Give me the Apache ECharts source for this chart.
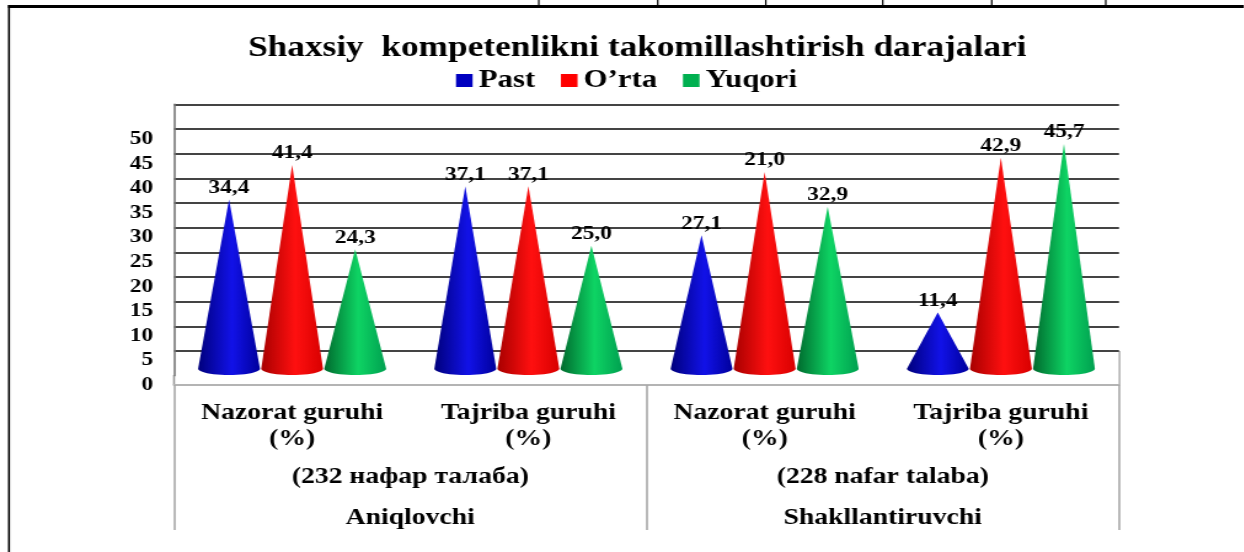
<!DOCTYPE html>
<html>
<head>
<meta charset="utf-8">
<style>
  html, body { margin: 0; padding: 0; background: #fff; overflow: hidden; }
  /* the source figure is a picture pasted in stretched sideways, so stretch ours too */
  #chart { width: 1012px; height: 552px; transform: scaleX(1.23); transform-origin: 0 0; }
</style>
</head>
<body>
<div id="chart"></div>
<script src="https://cdn.jsdelivr.net/npm/echarts@6/dist/echarts.min.js"></script>
<script>
const groups = ["Nazorat guruhi\n(%)", "Tajriba guruhi\n(%)", "Nazorat guruhi\n(%)", "Tajriba guruhi\n(%)"];
const cohorts = ["(232 нафар талаба)", "(228 nafar talaba)"];
const phases = ["Aniqlovchi", "Shakllantiruvchi"];

// heights as drawn in the picture
const past = [34.4, 37.1, 27.1, 11.4];
const orta = [41.4, 37.1, 40.0, 42.9];
const yuqori = [24.3, 25.0, 32.9, 45.7];

// printed labels (third red cone is printed 21,0 but drawn near 40)
const pastLabels = ["34,4", "37,1", "27,1", "11,4"];
const ortaLabels = ["41,4", "37,1", "21,0", "42,9"];
const yuqoriLabels = ["24,3", "25,0", "32,9", "45,7"];

const SERIF = '"Liberation Serif", serif';
const SX = 1.23;
const px = (x) => x / SX; // page x to chart x

const chart = echarts.init(document.getElementById("chart"));

function coneSeries(name, values, labels, offset, stops) {
  return {
    name: name,
    type: "custom",
    xAxisIndex: 0,
    yAxisIndex: 0,
    clip: false,
    z: 5,
    itemStyle: { color: stops.legend },
    data: values.map((v, i) => [i, v]),
    renderItem: (params, api) => {
      const band = api.size([1, 0])[0];
      const base = api.coord([api.value(0), 0]);
      const tip = api.coord([api.value(0), api.value(1)]);
      const cx = base[0] + band * offset;
      const hw = band * 0.131;
      const ry = 6.3;
      const points = [[cx, tip[1]]];
      for (let k = 0; k <= 24; k++) {
        const a = (k / 24) * Math.PI;
        points.push([cx + hw * Math.cos(a), base[1] + ry * Math.sin(a)]);
      }
      return {
        type: "group",
        children: [
          {
            type: "polygon",
            shape: { points: points },
            style: {
              fill: new echarts.graphic.LinearGradient(0, 0, 1, 0, [
                { offset: 0, color: stops.dark },
                { offset: 0.55, color: stops.light },
                { offset: 1, color: stops.mid },
              ]),
            },
          },
          {
            type: "text",
            z2: 10,
            style: {
              text: labels[params.dataIndex],
              x: cx,
              y: tip[1] - 11.5,
              align: "center",
              verticalAlign: "middle",
              fill: "#000",
              font: "bold 19px " + SERIF,
            },
          },
        ],
      };
    },
  };
}

function frameRect(x, y, w, h) {
  return { type: "rect", silent: true, shape: { x: px(x), y: y, width: px(w), height: h }, style: { fill: "#000" } };
}

const option = {
  animation: false,
  title: {
    text: "Shaxsiy  kompetenlikni takomillashtirish darajalari",
    left: px(248),
    top: 34,
    padding: 0,
    textStyle: { fontFamily: SERIF, fontWeight: "bold", fontSize: 28.7, color: "#000" },
  },
  legend: {
    left: px(456),
    top: 68,
    padding: 0,
    icon: "rect",
    itemWidth: 13.5,
    itemHeight: 13,
    itemGap: 21,
    selectedMode: false,
    textStyle: { fontFamily: SERIF, fontWeight: "bold", fontSize: 25, color: "#000" },
    data: ["Past", "O’rta", "Yuqori"],
  },
  // three offset grids fake the 3D look: cones, back wall, front tick labels
  grid: [
    { left: px(174), width: px(945), top: 98.1, height: 270.6 },
    { left: px(174), width: px(945), top: 104.4, height: 271.2 },
    { left: px(174), width: px(945), top: 114.4, height: 270.6 },
  ],
  xAxis: [
    { type: "category", gridIndex: 0, data: groups, show: false },
    { type: "category", gridIndex: 1, data: groups, show: false },
    {
      type: "category",
      gridIndex: 2,
      data: groups,
      position: "bottom",
      axisLine: { show: true, lineStyle: { color: "#b4b4b4", width: 2 } },
      axisTick: { show: false },
      axisLabel: {
        interval: 0,
        margin: 15,
        lineHeight: 26,
        fontFamily: SERIF,
        fontWeight: "bold",
        fontSize: 22.5,
        color: "#000",
      },
    },
    {
      type: "category",
      gridIndex: 2,
      data: cohorts,
      position: "bottom",
      axisLine: { show: false },
      axisTick: { show: true, length: 145, lineStyle: { color: "#a8a8a8", width: 1.6 } },
      axisLabel: {
        interval: 0,
        margin: 81,
        fontFamily: SERIF,
        fontWeight: "bold",
        fontSize: 22.5,
        color: "#000",
      },
    },
    {
      type: "category",
      gridIndex: 2,
      data: phases,
      position: "bottom",
      axisLine: { show: false },
      axisTick: { show: false },
      axisLabel: {
        interval: 0,
        margin: 122,
        fontFamily: SERIF,
        fontWeight: "bold",
        fontSize: 22.5,
        color: "#000",
      },
    },
  ],
  yAxis: [
    { type: "value", gridIndex: 0, min: 0, max: 55, interval: 5, show: false },
    {
      type: "value",
      gridIndex: 1,
      min: 0,
      max: 55,
      interval: 5,
      axisLabel: { show: false },
      axisTick: { show: false },
      axisLine: { show: true, lineStyle: { color: "#777", width: 1.6 } },
      splitLine: { show: true, showMinLine: false, lineStyle: { color: "#444", width: 2 } },
    },
    {
      type: "value",
      gridIndex: 2,
      min: 0,
      max: 55,
      interval: 5,
      axisLine: { show: false },
      axisTick: { show: false },
      splitLine: { show: false },
      axisLabel: {
        margin: px(21),
        showMaxLabel: false,
        fontFamily: SERIF,
        fontWeight: "bold",
        fontSize: 19,
        color: "#000",
      },
    },
  ],
  series: [
    coneSeries("Past", past, pastLabels, -0.267, { legend: "#0000c0", dark: "#00007c", light: "#1212e8", mid: "#00009c" }),
    coneSeries("O’rta", orta, ortaLabels, 0, { legend: "#ff0000", dark: "#a80000", light: "#ff1010", mid: "#d80000" }),
    coneSeries("Yuqori", yuqori, yuqoriLabels, 0.267, { legend: "#00b050", dark: "#006a2e", light: "#0ed464", mid: "#00a050" }),
  ],
  // the page's table frame around the figure, and the wall's two corners
  graphic: [
    frameRect(8, 5, 1236, 3),
    frameRect(8, 5, 2, 547),
    frameRect(538, 0, 1.5, 6),
    frameRect(657, 0, 1.5, 6),
    frameRect(765, 0, 1.5, 6),
    frameRect(882, 0, 1.5, 6),
    frameRect(991, 0, 1.5, 6),
    frameRect(1105, 0, 1.5, 6),
    { type: "line", silent: true, shape: { x1: px(174), y1: 375, x2: px(174), y2: 385 }, style: { stroke: "#999", lineWidth: 1.6 } },
    { type: "line", silent: true, shape: { x1: px(1119.5), y1: 351, x2: px(1119.5), y2: 385 }, style: { stroke: "#b4b4b4", lineWidth: 1.6 } },
  ],
};

chart.setOption(option);
window.addEventListener("resize", () => {
  chart.resize();
});
</script>
</body>
</html>
